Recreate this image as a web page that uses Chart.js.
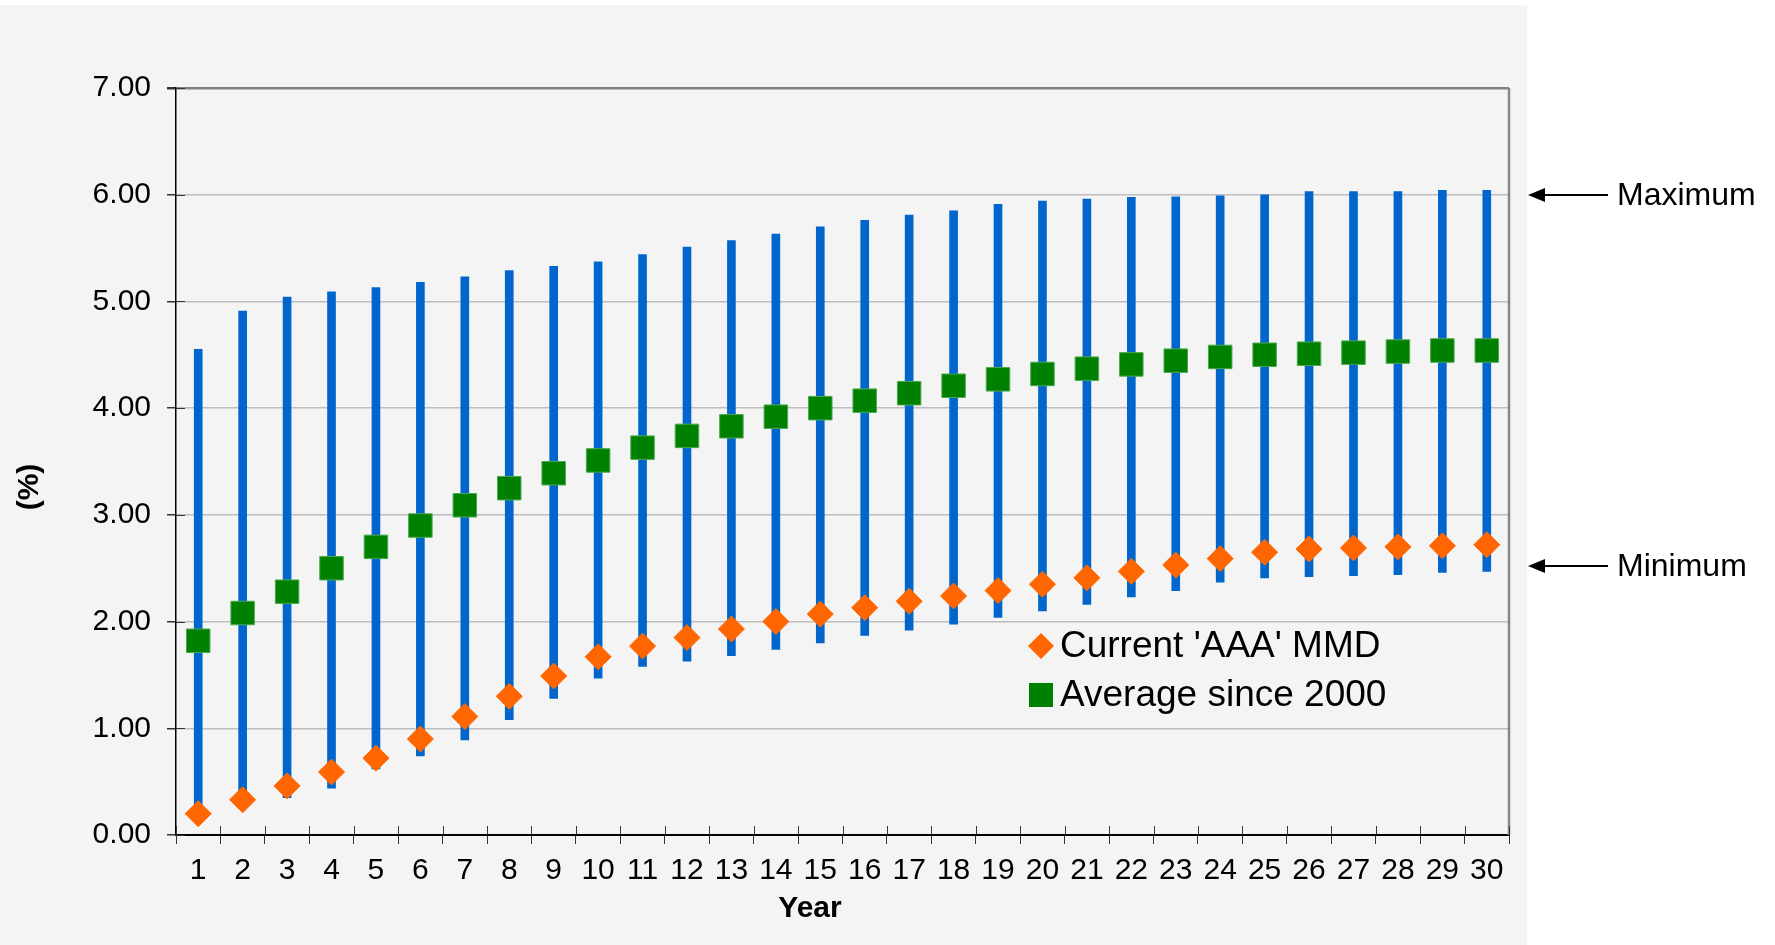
<!DOCTYPE html>
<html>
<head>
<meta charset="utf-8">
<title>MMD yield range</title>
<script src="https://cdn.jsdelivr.net/npm/chart.js@4.4.1/dist/chart.umd.min.js"></script>
<style>
  html, body { margin: 0; padding: 0; background: #fff; }
  #wrap { width: 1775px; height: 945px; }
</style>
</head>
<body>
<div id="wrap"><canvas id="mmdChart" width="1775" height="945"></canvas></div>
<script>
const years = ["1", "2", "3", "4", "5", "6", "7", "8", "9", "10",
  "11", "12", "13", "14", "15", "16", "17", "18", "19", "20",
  "21", "22", "23", "24", "25", "26", "27", "28", "29", "30"];

// high / low since 2000 (blue range bars)
const rangeMax = [4.55, 4.91, 5.04, 5.09, 5.13, 5.18, 5.23, 5.29, 5.33, 5.37,
  5.44, 5.51, 5.57, 5.63, 5.70, 5.76, 5.81, 5.85, 5.91, 5.94,
  5.96, 5.975, 5.98, 5.99, 6.00, 6.03, 6.03, 6.03, 6.04, 6.04];
const rangeMin = [0.20, 0.33, 0.35, 0.44, 0.62, 0.74, 0.89, 1.08, 1.28, 1.47,
  1.58, 1.63, 1.68, 1.74, 1.80, 1.87, 1.92, 1.975, 2.04, 2.10,
  2.16, 2.23, 2.29, 2.37, 2.41, 2.42, 2.43, 2.44, 2.46, 2.47];

const currentMMD = [0.20, 0.33, 0.46, 0.59, 0.72, 0.90, 1.11, 1.30, 1.49, 1.67,
  1.77, 1.85, 1.93, 2.00, 2.07, 2.13, 2.19, 2.24, 2.29, 2.35,
  2.41, 2.47, 2.53, 2.59, 2.65, 2.68, 2.69, 2.70, 2.71, 2.72];
const avgSince2000 = [1.82, 2.08, 2.28, 2.50, 2.70, 2.90, 3.09, 3.25, 3.39, 3.51,
  3.63, 3.74, 3.83, 3.92, 4.00, 4.07, 4.14, 4.21, 4.27, 4.32,
  4.37, 4.41, 4.445, 4.48, 4.50, 4.51, 4.52, 4.53, 4.54, 4.54];

const sideNotes = [
  { text: "Maximum", value: 6.0 },
  { text: "Minimum", value: 2.525 },
];

const FONT = "'Liberation Sans', Arial, Helvetica, sans-serif";
Chart.defaults.font.family = FONT;
Chart.defaults.color = "#000";

const BLUE = "#0066cc";
const GREEN = "#008000";
const ORANGE = "#ff6600";

// grey panel behind the chart
const backdrop = {
  id: "backdrop",
  beforeDraw(chart) {
    const c = chart.ctx;
    c.save();
    c.fillStyle = "#ffffff";
    c.fillRect(0, 0, chart.width, chart.height);
    c.fillStyle = "#f4f4f4";
    c.fillRect(0, 5, chart.chartArea.right + 18, chart.height - 5);
    c.restore();
  },
};

// right border + tick marks that poke into the plot
const frame = {
  id: "frame",
  afterDraw(chart) {
    const c = chart.ctx;
    const a = chart.chartArea;
    const y = chart.scales.y;
    c.save();
    c.strokeStyle = "#888888";
    c.lineWidth = 2.5;
    c.beginPath();
    c.moveTo(a.right, a.top);
    c.lineTo(a.right, a.bottom);
    c.stroke();

    c.strokeStyle = "#333";
    c.lineWidth = 1;
    const step = (a.right - a.left) / years.length;
    for (let i = 0; i <= years.length; i++) {
      const px = Math.round(a.left + i * step) + 0.5;
      c.beginPath();
      c.moveTo(px, a.bottom);
      c.lineTo(px, a.bottom - 9);
      c.stroke();
    }
    y.ticks.forEach((t) => {
      const py = Math.round(y.getPixelForValue(t.value)) + 0.5;
      c.beginPath();
      c.moveTo(a.left, py);
      c.lineTo(a.left + 9, py);
      c.stroke();
    });
    c.restore();
  },
};

// axis titles, legend, max/min arrows
const labels = {
  id: "labels",
  afterDraw(chart) {
    const c = chart.ctx;
    const a = chart.chartArea;
    const y = chart.scales.y;
    c.save();
    c.fillStyle = "#000";

    c.font = "bold 30px " + FONT;
    c.textAlign = "center";
    c.textBaseline = "middle";
    c.fillText("Year", 810, 909);
    c.save();
    c.translate(30, 487);
    c.rotate(-Math.PI / 2);
    c.fillText("(%)", 0, 0);
    c.restore();

    // legend
    const cur = chart.data.datasets[1];
    const avg = chart.data.datasets[2];
    c.font = "37px " + FONT;
    c.textAlign = "left";
    c.fillStyle = ORANGE;
    c.beginPath();
    c.moveTo(1028, 646);
    c.lineTo(1041, 633);
    c.lineTo(1054, 646);
    c.lineTo(1041, 659);
    c.closePath();
    c.fill();
    c.fillStyle = GREEN;
    c.fillRect(1029, 683, 24, 24);
    c.fillStyle = "#000";
    c.fillText(cur.label, 1060, 647);
    c.fillText(avg.label, 1060, 696);

    // arrows on the right
    c.font = "32px " + FONT;
    c.strokeStyle = "#000";
    c.lineWidth = 2;
    sideNotes.forEach((n) => {
      const py = Math.round(y.getPixelForValue(n.value));
      const tip = a.right + 19;
      c.beginPath();
      c.moveTo(tip + 14, py);
      c.lineTo(a.right + 99, py);
      c.stroke();
      c.beginPath();
      c.moveTo(tip, py);
      c.lineTo(tip + 17, py - 7);
      c.lineTo(tip + 17, py + 7);
      c.closePath();
      c.fill();
      c.fillText(n.text, a.right + 108, py + 1);
    });
    c.restore();
  },
};

const config = {
  type: "bar",
  data: {
    labels: years,
    datasets: [
      {
        label: "Range",
        data: rangeMin.map((lo, i) => [lo, rangeMax[i]]),
        backgroundColor: BLUE,
        barThickness: 8,
        order: 3,
      },
      {
        type: "line",
        label: "Current 'AAA' MMD",
        data: currentMMD,
        showLine: false,
        pointStyle: "rectRot",
        pointRadius: 13,
        backgroundColor: ORANGE,
        borderColor: ORANGE,
        borderWidth: 1,
        order: 1,
      },
      {
        type: "line",
        label: "Average since 2000",
        data: avgSince2000,
        showLine: false,
        pointStyle: "rect",
        pointRadius: 16.6,
        backgroundColor: GREEN,
        borderColor: "#4aa84a",
        borderWidth: 1,
        order: 2,
      },
    ],
  },
  options: {
    responsive: false,
    animation: false,
    events: [],
    devicePixelRatio: 1,
    layout: { padding: { left: 0, right: 266, top: 88, bottom: 0 } },
    plugins: {
      legend: { display: false },
      tooltip: { enabled: false },
    },
    scales: {
      x: {
        offset: true,
        afterFit(s) {
          s.height = 110;
        },
        grid: {
          offset: true,
          drawOnChartArea: false,
          tickLength: 9,
          color: "#333",
          lineWidth: 1,
        },
        border: { color: "#000", width: 2 },
        ticks: {
          font: { size: 30 },
          color: "#000",
          padding: 9,
          maxRotation: 0,
          autoSkip: false,
        },
      },
      y: {
        min: 0,
        max: 7,
        afterFit(s) {
          s.width = 176;
        },
        grid: {
          color: (ctx) => (ctx.tick && ctx.tick.value === 7 ? "#808080" : "#bdbdbd"),
          lineWidth: (ctx) => (ctx.tick && ctx.tick.value === 7 ? 2.5 : 1.5),
          tickLength: 9,
          tickColor: "#333",
        },
        border: { color: "#000", width: 1.5 },
        ticks: {
          stepSize: 1,
          font: { size: 30 },
          color: "#000",
          padding: 16,
          callback: (v) => Number(v).toFixed(2),
        },
      },
    },
  },
  plugins: [backdrop, frame, labels],
};

const canvas = document.getElementById("mmdChart");
if (canvas) {
  new Chart(canvas.getContext("2d"), config);
} else {
  console.error("canvas not found");
}
</script>
</body>
</html>
